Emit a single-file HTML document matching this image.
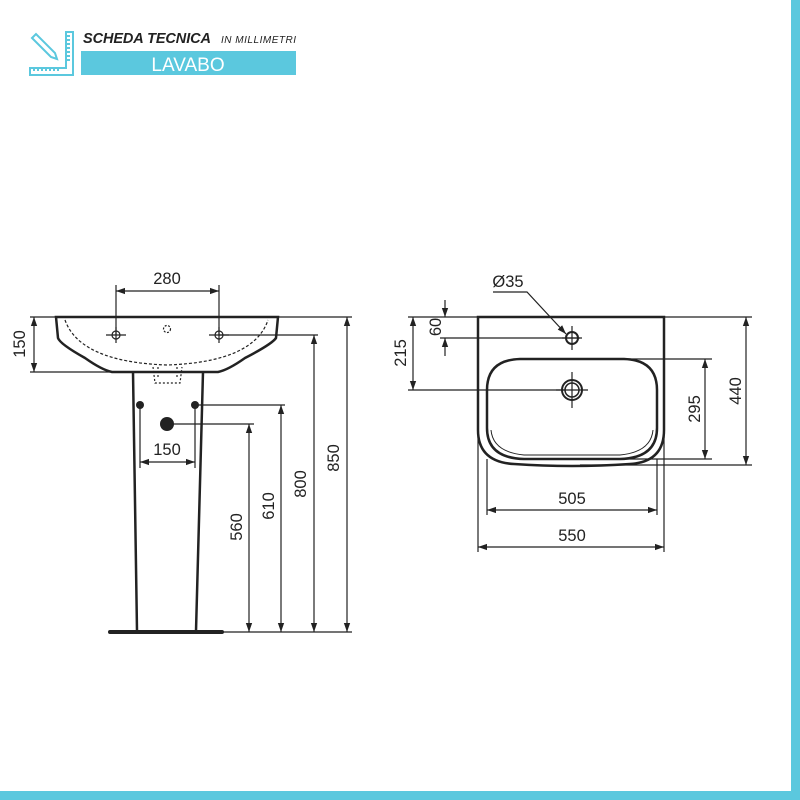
<!DOCTYPE html>
<html><head><meta charset="utf-8"><style>
html,body{margin:0;padding:0;background:#fff;width:800px;height:800px;overflow:hidden}
svg{display:block}
text{font-family:"Liberation Sans",sans-serif;fill:#222}
</style></head><body>
<svg width="800" height="800" viewBox="0 0 800 800" xmlns="http://www.w3.org/2000/svg">
<defs>
<marker id="a" viewBox="0 0 10 10" refX="10" refY="5" markerWidth="9" markerHeight="9" orient="auto-start-reverse" markerUnits="userSpaceOnUse"><path d="M0,1.5 L10,5 L0,8.5z" fill="#222"/></marker>
</defs>
<rect x="791" y="0" width="9" height="800" fill="#5bc8de"/>
<rect x="0" y="791" width="800" height="9" fill="#5bc8de"/>
<!-- header icon -->
<g stroke="#5bc8de" stroke-width="2" fill="none">
<path d="M32,38 L36,34 L55,53 L57,59 L51,57 Z"/>
<path d="M66,32 H73 V75 H30 V68 H66 Z"/>
<path d="M34,71 V68 M38,71 V68 M42,71 V68 M46,71 V68 M50,71 V68 M54,71 V68 M58,71 V68 M66,36 H70 M66,40 H70 M66,44 H70 M66,48 H70 M66,52 H70 M66,56 H70 M66,60 H70"/>
</g>
<text x="83" y="43" font-size="14.5" font-weight="bold" font-style="italic" textLength="128">SCHEDA TECNICA</text>
<text x="221" y="43" font-size="10" font-style="italic" textLength="75">IN MILLIMETRI</text>
<rect x="81" y="51" width="215" height="24" fill="#5bc8de"/>
<text x="188" y="71" font-size="19" text-anchor="middle" style="fill:#fff">LAVABO</text>

<g stroke="#222" fill="none" stroke-width="1.2">
<!-- left basin -->
<path d="M56,317 H278 L276,338 Q272,344 245,358 Q228,370 218,372 H112 Q102,370 85,358 Q60,344 58,338 Z" stroke-width="2.5"/>
<path d="M65,320 Q80,362 167,365 Q254,362 268,320" stroke-dasharray="3,2"/>
<path d="M153,367 L155,383 H180 L182,367 M158,367 V378 M177,367 V378" stroke-dasharray="2,2"/>
<circle cx="167" cy="329" r="3.5" stroke-dasharray="2,1.5"/>
<circle cx="116" cy="335" r="4"/><path d="M106,335 H126 M116,327 V343"/>
<circle cx="219" cy="335" r="4"/><path d="M209,335 H229 M219,327 V343"/>
<!-- pedestal -->
<path d="M133,372 L137,631 M203,372 L196,631" stroke-width="2.5"/>
<path d="M110,632 H222" stroke-width="4" stroke-linecap="round"/>
<!-- dims left -->
<path d="M116,285 V335 M219,285 V335"/>
<path d="M116,291 H219" marker-start="url(#a)" marker-end="url(#a)"/>
<path d="M30,317 H56 M30,372 H110"/>
<path d="M34,317 V372" marker-start="url(#a)" marker-end="url(#a)"/>
<path d="M140,405 V468 M195,405 V468"/>
<path d="M140,462 H195" marker-start="url(#a)" marker-end="url(#a)"/>
<path d="M278,317 H352 M219,335 H318 M195,405 H285 M167,424 H254 M222,632 H352"/>
<path d="M347,317 V632" marker-start="url(#a)" marker-end="url(#a)"/>
<path d="M314,335 V632" marker-start="url(#a)" marker-end="url(#a)"/>
<path d="M281,405 V632" marker-start="url(#a)" marker-end="url(#a)"/>
<path d="M249,424 V632" marker-start="url(#a)" marker-end="url(#a)"/>

<!-- right plan -->
<path d="M478,317 H664 V430 Q664,462 630,464 Q572,468 514,464 Q478,462 478,430 Z" stroke-width="2.5"/>
<path d="M487,390 Q487,360 520,359 H624 Q657,360 657,390 V428 Q657,458 620,459 H524 Q487,458 487,428 Z" stroke-width="2.5"/>
<path d="M491,430 Q493,452 524,455 H620 Q651,452 653,430" stroke-width="1"/>
<circle cx="572" cy="338" r="6" stroke-width="2"/><path d="M562,338 H582 M572,326 V350"/>
<circle cx="572" cy="390" r="10" stroke-width="2"/><circle cx="572" cy="390" r="7" stroke-width="1.5"/><path d="M556,390 H588 M572,372 V408"/>
<path d="M493,292 H527 L566,334" marker-end="url(#a)"/>
<path d="M440,338 H580"/>
<path d="M445,300 V317" marker-end="url(#a)"/>
<path d="M445,356 V338" marker-end="url(#a)"/>
<path d="M408,317 H478 M408,390 H565"/>
<path d="M413,317 V390" marker-start="url(#a)" marker-end="url(#a)"/>
<path d="M560,359 H712 M620,459 H712"/>
<path d="M705,359 V459" marker-start="url(#a)" marker-end="url(#a)"/>
<path d="M664,317 H752 M580,465 H752"/>
<path d="M746,317 V465" marker-start="url(#a)" marker-end="url(#a)"/>
<path d="M487,459 V515 M657,459 V515"/>
<path d="M487,510 H657" marker-start="url(#a)" marker-end="url(#a)"/>
<path d="M478,430 V552 M664,430 V552"/>
<path d="M478,547 H664" marker-start="url(#a)" marker-end="url(#a)"/>
</g>
<circle cx="140" cy="405" r="4" fill="#222"/>
<circle cx="195" cy="405" r="4" fill="#222"/>
<circle cx="167" cy="424" r="7" fill="#222"/>
<g font-size="16.5">
<text x="167" y="284" text-anchor="middle">280</text>
<text x="167" y="455" text-anchor="middle">150</text>
<text transform="translate(25,344) rotate(-90)" text-anchor="middle">150</text>
<text transform="translate(242,527) rotate(-90)" text-anchor="middle">560</text>
<text transform="translate(274,506) rotate(-90)" text-anchor="middle">610</text>
<text transform="translate(306,484) rotate(-90)" text-anchor="middle">800</text>
<text transform="translate(339,458) rotate(-90)" text-anchor="middle">850</text>
<text x="508" y="287" text-anchor="middle">Ø35</text>
<text transform="translate(441,327) rotate(-90)" text-anchor="middle">60</text>
<text transform="translate(406,353) rotate(-90)" text-anchor="middle">215</text>
<text transform="translate(700,409) rotate(-90)" text-anchor="middle">295</text>
<text transform="translate(741,391) rotate(-90)" text-anchor="middle">440</text>
<text x="572" y="504" text-anchor="middle">505</text>
<text x="572" y="541" text-anchor="middle">550</text>
</g>
</svg>
</body></html>
